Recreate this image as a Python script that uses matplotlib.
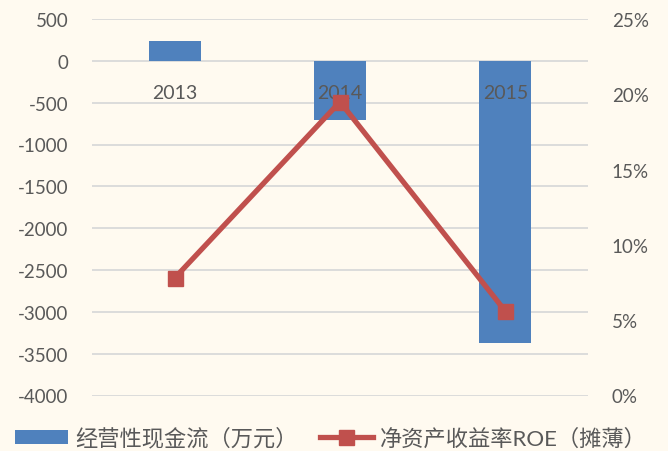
import matplotlib
matplotlib.use("Agg")
import matplotlib.pyplot as plt
from matplotlib.ticker import FuncFormatter, MultipleLocator
from matplotlib.patches import Patch
from matplotlib.lines import Line2D

years = ["2013", "2014", "2015"]
cash_flow = [235, -705, -3370]       # 经营性现金流（万元）
roe = [0.078, 0.195, 0.056]          # 净资产收益率ROE（摊薄）

bar_color = "#4F81BD"
line_color = "#C0504D"
bg = "#FFFAF0"
text_color = "#595959"

plt.rcParams['font.family'] = ['Lato', 'Noto Sans CJK SC', 'DejaVu Sans']
plt.rcParams['axes.unicode_minus'] = False

fig = plt.figure(figsize=(6.68, 4.52), dpi=100, facecolor=bg)
ax1 = fig.add_axes([92 / 668, 1 - 396.5 / 452, 496 / 668, 376.5 / 452])
ax1.set_facecolor(bg)

x = list(range(len(years)))
ax1.bar(x, cash_flow, width=0.315, color=bar_color, zorder=2)
ax1.set_xlim(-0.5, len(years) - 0.5)
ax1.set_ylim(-4000, 500)
ax1.yaxis.set_major_locator(MultipleLocator(500))
ax1.yaxis.set_major_formatter(FuncFormatter(lambda v, p: f"{int(v)}"))
ax1.grid(axis='y', color="#D9D9D9", linewidth=1.3, zorder=0)
ax1.set_xticks([])
for s in ax1.spines.values():
    s.set_visible(False)
ax1.tick_params(axis='y', length=0, labelsize=13.5, labelcolor=text_color, pad=17)

# category labels sit just under the zero line
for xi, yr in zip(x, years):
    ax1.text(xi, -380, yr, ha='center', va='center', fontsize=14, color=text_color, zorder=3)

ax2 = ax1.twinx()
ax2.plot(x, roe, color=line_color, linewidth=3.8, marker='s', markersize=10.8, zorder=4)
ax2.set_ylim(0, 0.25)
ax2.yaxis.set_major_locator(MultipleLocator(0.05))
ax2.yaxis.set_major_formatter(FuncFormatter(lambda v, p: f"{round(v * 100)}%"))
for s in ax2.spines.values():
    s.set_visible(False)
ax2.tick_params(axis='y', length=0, labelsize=13.5, labelcolor=text_color, pad=17)

handles = [
    Patch(facecolor=bar_color, edgecolor='none'),
    Line2D([0], [0], color=line_color, linewidth=3.8, marker='s', markersize=10.8),
]
labels = ["经营性现金流（万元）", "净资产收益率ROE（摊薄）"]
leg = fig.legend(handles, labels, loc='center', bbox_to_anchor=(0.495, 0.029), ncol=2,
                 frameon=False, fontsize=16, handlelength=2.4, handleheight=0.63,
                 columnspacing=1.0, handletextpad=0.3, borderpad=0, borderaxespad=0)
for t in leg.get_texts():
    t.set_color(text_color)

fig.savefig("out.png", dpi=100, facecolor=bg)
